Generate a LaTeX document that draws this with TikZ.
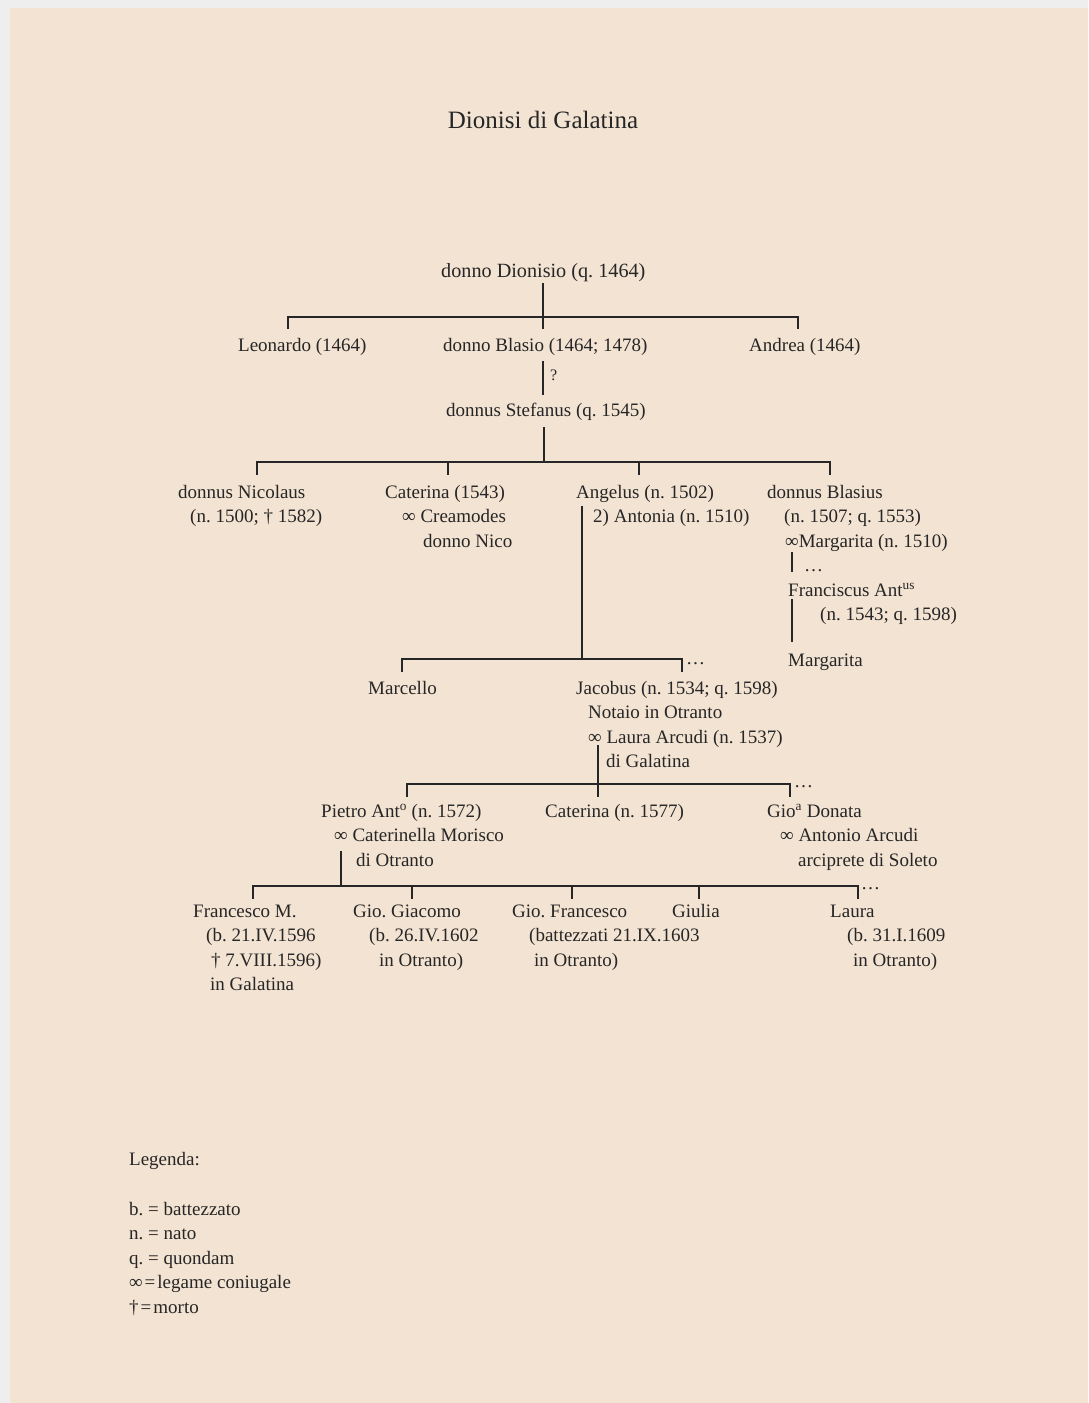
\documentclass[tikz,border=0pt]{standalone}
\usepackage{fontspec}
\setmainfont{Liberation Serif}
\definecolor{bg}{RGB}{243,227,210}
\definecolor{edge}{RGB}{238,238,238}
\definecolor{ink}{RGB}{38,38,38}
\frenchspacing
\begin{document}
\frenchspacing
\begin{tikzpicture}[x=1pt,y=-1pt,
  txt/.style={anchor=base west, inner sep=0pt, text=ink, font=\fontsize{19}{23}\selectfont\frenchspacing},
  link/.style={draw=ink, line width=1.6pt}]
\useasboundingbox (0,0) rectangle (1088,1403);
\fill[edge] (0,0) rectangle (1088,1403);
\fill[bg] (10,8) rectangle (1088,1403);

% title
\node[anchor=base, inner sep=0pt, text=ink, font=\fontsize{25}{30}\selectfont] (title) at (543,128) {Dionisi di Galatina};

% generation 1-3
\node[txt, font=\fontsize{20.2}{24}\selectfont\frenchspacing] (dion) at (441,277) {donno Dionisio (q. 1464)};
\node[txt] (leon) at (238,351) {Leonardo (1464)};
\node[txt] (blasio) at (443,351) {donno Blasio (1464; 1478)};
\node[txt] (andrea) at (749,351) {Andrea (1464)};
\node[txt, font=\fontsize{16}{20}\selectfont] (qmark) at (550,380) {?};
\node[txt] (stef) at (446,416) {donnus Stefanus (q. 1545)};

% children of Stefanus
\node[txt] (nicol) at (178,498) {donnus Nicolaus};
\node[txt] (nicol2) at (190,522.5) {(n. 1500; † 1582)};
\node[txt] (cat) at (385,498) {Caterina (1543)};
\node[txt] (cat2) at (402,522.5) {∞ Creamodes};
\node[txt] (cat3) at (423,547) {donno Nico};
\node[txt] (ang) at (576,498) {Angelus (n. 1502)};
\node[txt] (ang2) at (593,522.5) {2) Antonia (n. 1510)};
\node[txt] (blas) at (767,498) {donnus Blasius};
\node[txt] (blas2) at (784,522.5) {(n. 1507; q. 1553)};
\node[txt] (blas3) at (785,547) {∞Margarita (n. 1510)};
\node[txt] (bdots) at (804,571.5) {…};
\node[txt] (franc) at (788,596) {Franciscus Ant\textsuperscript{us}};
\node[txt] (franc2) at (820,620.5) {(n. 1543; q. 1598)};
\node[txt] (marg) at (788,666) {Margarita};

% children of Angelus
\node[txt] (marc) at (368,694) {Marcello};
\node[txt] (jac) at (576,694) {Jacobus (n. 1534; q. 1598)};
\node[txt] (jac2) at (588,718.5) {Notaio in Otranto};
\node[txt] (jac3) at (588,743) {∞ Laura Arcudi (n. 1537)};
\node[txt] (jac4) at (606,767.5) {di Galatina};
\node[txt] (jdots) at (686,664) {…};

% children of Jacobus
\node[txt] (pie) at (321,817) {Pietro Ant\textsuperscript{o} (n. 1572)};
\node[txt] (pie2) at (334,841.5) {∞ Caterinella Morisco};
\node[txt] (pie3) at (356,866) {di Otranto};
\node[txt] (cat77) at (545,817) {Caterina (n. 1577)};
\node[txt] (gio) at (767,817) {Gio\textsuperscript{a} Donata};
\node[txt] (gio2) at (780,841.5) {∞ Antonio Arcudi};
\node[txt] (gio3) at (798,866) {arciprete di Soleto};
\node[txt] (gdots) at (794,787) {…};

% children of Pietro
\node[txt] (fm) at (193,917) {Francesco M.};
\node[txt] (fm2) at (206,941.5) {(b. 21.IV.1596};
\node[txt] (fm3) at (211,966) {† 7.VIII.1596)};
\node[txt] (fm4) at (210,990.5) {in Galatina};
\node[txt] (gg) at (353,917) {Gio. Giacomo};
\node[txt] (gg2) at (369,941.5) {(b. 26.IV.1602};
\node[txt] (gg3) at (379,966) {in Otranto)};
\node[txt] (gf) at (512,917) {Gio. Francesco};
\node[txt] (gf2) at (529,941.5) {(battezzati 21.IX.1603};
\node[txt] (gf3) at (534,966) {in Otranto)};
\node[txt] (giu) at (672,917) {Giulia};
\node[txt] (lau) at (830,917) {Laura};
\node[txt] (lau2) at (847,941.5) {(b. 31.I.1609};
\node[txt] (lau3) at (853,966) {in Otranto)};
\node[txt] (ldots) at (861,889) {…};

% legend
\node[txt] (leg) at (129,1165) {Legenda:};
\node[txt] (leg1) at (129,1215) {b. = battezzato};
\node[txt] (leg2) at (129,1239.5) {n. = nato};
\node[txt] (leg3) at (129,1264) {q. = quondam};
\node[txt] (leg4) at (129,1288.5) {∞\hspace{2pt}=\hspace{2pt}legame coniugale};
\node[txt] (leg5) at (129,1313) {†\hspace{2pt}=\hspace{2pt}morto};

% connectors
\coordinate (dtop) at (543,283);
\draw[link] (dtop) -- (543,329);
\draw[link] (288,329) -- (288,317) -- (798,317) -- (798,329);

\coordinate (btop) at (543,361);
\coordinate (sbot) at (543,395);
\draw[link] (btop) -- (sbot);

\coordinate (stop) at (544,427);
\draw[link] (stop) -- (544,462);
\draw[link] (257,475) -- (257,462) -- (830,462) -- (830,475);
\draw[link] (448,462) -- (448,475);
\draw[link] (639,462) -- (639,475);

\coordinate (atop) at (582,506);
\draw[link] (atop) -- (582,659);
\draw[link] (402,672) -- (402,659) -- (682,659) -- (682,672);

\draw[link] (792,552) -- (792,572);
\draw[link] (792,599) -- (792,642);

\coordinate (jtop) at (598,745);
\draw[link] (jtop) -- (598,797);
\draw[link] (407,797) -- (407,784) -- (790,784) -- (790,797);

\coordinate (ptop) at (341,851);
\draw[link] (ptop) -- (341,886);
\draw[link] (253,899) -- (253,886) -- (858,886) -- (858,899);
\draw[link] (412,886) -- (412,899);
\draw[link] (572,886) -- (572,899);
\draw[link] (699,886) -- (699,899);
\end{tikzpicture}
\end{document}
